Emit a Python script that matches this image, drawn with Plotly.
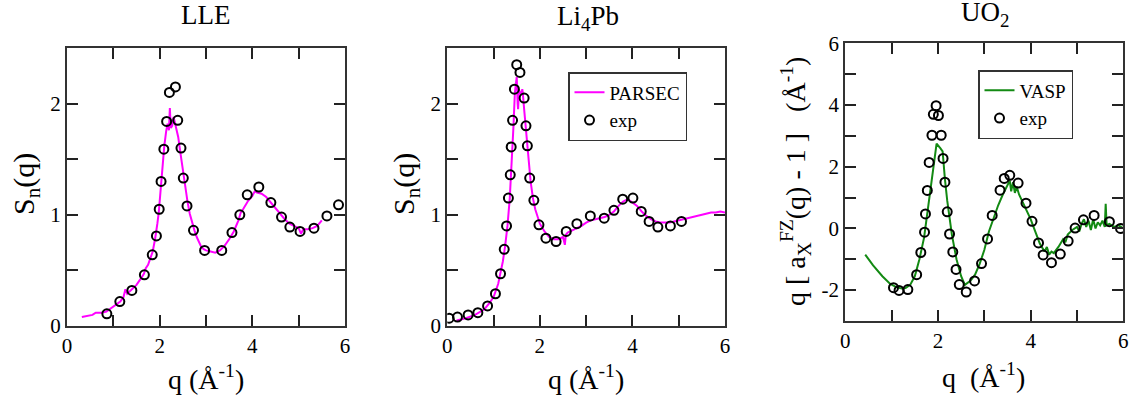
import plotly.graph_objects as go

# ---------------- data ----------------
# LLE panel
lle_q_exp = [0.86, 1.14, 1.40, 1.67, 1.84, 1.93, 1.99, 2.03, 2.09, 2.15, 2.21, 2.34, 2.39, 2.46, 2.51,
             2.59, 2.73, 2.97, 3.34, 3.56, 3.73, 3.89, 4.14, 4.40, 4.63, 4.81, 5.03, 5.33, 5.61, 5.86]
lle_s_exp = [0.11, 0.22, 0.32, 0.46, 0.64, 0.81, 1.05, 1.30, 1.59, 1.84, 2.10, 2.15, 1.85, 1.60, 1.33,
             1.08, 0.86, 0.68, 0.68, 0.84, 1.00, 1.18, 1.25, 1.11, 0.98, 0.89, 0.85, 0.88, 0.99, 1.09]
lle_q_calc = [0.32, 0.45, 0.55, 0.62, 0.75, 0.85, 0.95, 1.05, 1.15, 1.22, 1.26, 1.30, 1.40, 1.50, 1.60,
              1.66, 1.70, 1.75, 1.80, 1.85, 1.90, 1.93, 1.95, 1.98, 2.00, 2.03, 2.07, 2.10, 2.14, 2.17,
              2.20, 2.22, 2.24, 2.27, 2.30, 2.33, 2.36, 2.40, 2.45, 2.50, 2.55, 2.60, 2.65, 2.70, 2.75,
              2.80, 2.85, 2.90, 2.95, 3.00, 3.10, 3.20, 3.30, 3.40, 3.50, 3.60, 3.70, 3.75, 3.80, 3.90,
              4.00, 4.05, 4.10, 4.20, 4.30, 4.40, 4.50, 4.60, 4.70, 4.80, 4.90, 5.00, 5.05, 5.10, 5.20,
              5.30, 5.40, 5.50]
lle_s_calc = [0.08, 0.09, 0.10, 0.12, 0.12, 0.13, 0.16, 0.19, 0.22, 0.26, 0.33, 0.29, 0.33, 0.37, 0.43,
              0.47, 0.52, 0.55, 0.61, 0.67, 0.78, 0.85, 0.92, 1.02, 1.12, 1.30, 1.50, 1.62, 1.75, 1.82,
              1.76, 1.96, 1.78, 1.80, 1.88, 1.82, 1.79, 1.70, 1.55, 1.40, 1.26, 1.12, 1.01, 0.93, 0.86,
              0.80, 0.75, 0.71, 0.69, 0.68, 0.67, 0.66, 0.68, 0.72, 0.78, 0.85, 0.95, 1.02, 1.05, 1.12,
              1.17, 1.21, 1.20, 1.19, 1.16, 1.11, 1.06, 1.00, 0.96, 0.92, 0.90, 0.88, 0.83, 0.87, 0.87,
              0.88, 0.90, 0.95]

# Li4Pb panel
lip_q_exp = [0.04, 0.22, 0.45, 0.66, 0.87, 1.04, 1.15, 1.23, 1.28, 1.32, 1.36, 1.38, 1.41, 1.45, 1.50,
             1.57, 1.66, 1.70, 1.73, 1.78, 1.87, 1.98, 2.13, 2.35, 2.57, 2.80, 3.09, 3.39, 3.60, 3.79,
             4.01, 4.19, 4.36, 4.55, 4.82, 5.06]
lip_s_exp = [0.07, 0.08, 0.10, 0.12, 0.18, 0.29, 0.47, 0.69, 0.90, 1.15, 1.36, 1.61, 1.85, 2.13, 2.35,
             2.28, 2.05, 1.80, 1.62, 1.33, 1.13, 0.91, 0.79, 0.76, 0.85, 0.92, 0.99, 0.97, 1.04, 1.14,
             1.15, 1.03, 0.94, 0.89, 0.90, 0.94]
lip_q_calc = [0.20, 0.40, 0.60, 0.80, 0.90, 1.00, 1.10, 1.20, 1.25, 1.30, 1.35, 1.40, 1.43, 1.46, 1.48,
              1.50, 1.52, 1.53, 1.55, 1.58, 1.60, 1.62, 1.63, 1.66, 1.70, 1.75, 1.80, 1.85, 1.90, 2.00,
              2.10, 2.20, 2.30, 2.40, 2.50, 2.54, 2.56, 2.60, 2.70, 2.80, 2.90, 3.00, 3.10, 3.20, 3.30,
              3.40, 3.50, 3.60, 3.70, 3.80, 3.90, 4.00, 4.10, 4.20, 4.30, 4.40, 4.50, 4.60, 4.70, 4.80,
              4.90, 5.00, 5.10, 5.20, 5.30, 5.40, 5.50, 5.60, 5.70, 5.80, 5.90, 6.00]
lip_s_calc = [0.05, 0.07, 0.10, 0.15, 0.20, 0.26, 0.38, 0.58, 0.72, 0.90, 1.15, 1.50, 1.80, 2.10, 2.18,
              2.24, 2.00, 1.95, 2.12, 2.10, 2.08, 2.13, 2.10, 1.95, 1.75, 1.50, 1.30, 1.15, 1.05, 0.92,
              0.85, 0.80, 0.78, 0.78, 0.80, 0.73, 0.82, 0.84, 0.86, 0.88, 0.90, 0.93, 0.95, 0.96, 0.97,
              0.98, 1.00, 1.03, 1.08, 1.12, 1.14, 1.11, 1.08, 1.03, 0.99, 0.96, 0.94, 0.93, 0.93, 0.93,
              0.94, 0.95, 0.96, 0.97, 0.98, 0.99, 1.00, 1.01, 1.02, 1.02, 1.03, 1.02]

# UO2 panel
uo_q_exp = [1.04, 1.16, 1.35, 1.54, 1.63, 1.71, 1.73, 1.77, 1.81, 1.87, 1.90, 1.96, 2.01, 2.07, 2.11,
            2.15, 2.20, 2.25, 2.32, 2.39, 2.46, 2.61, 2.79, 2.94, 3.07, 3.17, 3.34, 3.43, 3.55, 3.73,
            3.90, 4.03, 4.17, 4.27, 4.45, 4.64, 4.81, 4.96, 5.14, 5.37, 5.70, 5.94]
uo_v_exp = [-1.92, -2.01, -1.98, -1.50, -0.78, -0.12, 0.47, 1.23, 2.14, 3.02, 3.70, 3.98, 3.66, 3.02, 2.27,
            1.50, 0.54, -0.18, -0.76, -1.33, -1.82, -2.06, -1.70, -1.14, -0.34, 0.42, 1.24, 1.62, 1.72, 1.47,
            0.82, 0.23, -0.47, -0.86, -1.11, -0.83, -0.41, 0.01, 0.28, 0.42, 0.22, 0.00]
uo_q_calc = [0.43, 0.60, 0.80, 0.97, 1.10, 1.22, 1.30, 1.40, 1.50, 1.60, 1.70, 1.80, 1.90, 1.97, 2.05,
             2.10, 2.15, 2.20, 2.30, 2.40, 2.50, 2.58, 2.70, 2.80, 2.90, 3.00, 3.10, 3.20, 3.30, 3.40,
             3.45, 3.50, 3.55, 3.58, 3.62, 3.66, 3.70, 3.75, 3.80, 3.90, 4.00, 4.05, 4.10, 4.20, 4.30,
             4.35, 4.40, 4.45, 4.50, 4.60, 4.70, 4.75, 4.80, 4.90, 5.00, 5.05, 5.10, 5.15, 5.20, 5.25,
             5.30, 5.35, 5.40, 5.45, 5.50, 5.55, 5.60, 5.62, 5.64, 5.70, 5.80, 5.90, 6.00]
uo_v_calc = [-0.85, -1.20, -1.55, -1.80, -1.90, -1.95, -1.93, -1.83, -1.55, -1.00, -0.30, 0.80, 2.00, 2.75, 2.60,
             2.50, 1.60, 0.90, -0.20, -1.00, -1.55, -1.83, -1.70, -1.50, -1.15, -0.70, -0.10, 0.35, 0.75, 1.10,
             1.25, 1.35, 1.55, 1.20, 1.50, 1.15, 1.35, 1.10, 0.95, 0.60, 0.30, 0.10, -0.10, -0.50, -0.75,
             -0.60, -0.85, -0.75, -0.80, -0.60, -0.35, -0.45, -0.20, -0.05, 0.05, -0.10, 0.15, 0.30, 0.05, 0.25,
             -0.05, 0.30, 0.00, 0.20, 0.10, 0.25, 0.05, 0.80, 0.10, 0.15, 0.05, 0.10, 0.00]

# tick positions and labels (blank label = minor tick)
q_ticks = [0, 1, 2, 3, 4, 5, 6]
q_text = ["0", "", "2", "", "4", "", "6"]
s_ticks = [0, 0.5, 1, 1.5, 2, 2.5]
s_text = ["0", "", "1", "", "2", ""]
v_ticks = [-3, -2, -1, 0, 1, 2, 3, 4, 5, 6]
v_text = ["", "-2", "", "0", "", "2", "", "4", "", "6"]

# ---------------- figure ----------------
W, H = 1136, 404
ML, MR, MT, MB = 30, 10, 30, 20
PW, PH = W - ML - MR, H - MT - MB
FONT = "Liberation Serif"
LINE_C = "#333333"
TICK_C = "#222222"
fig = go.Figure()

exp_marker = dict(symbol="circle-open", size=9, color="black", line=dict(width=2, color="black"))

fig.add_trace(go.Scatter(x=lle_q_calc, y=lle_s_calc, mode="lines", line=dict(color="#ff00ff", width=2),
                         xaxis="x", yaxis="y", showlegend=False))
fig.add_trace(go.Scatter(x=lle_q_exp, y=lle_s_exp, mode="markers", marker=exp_marker,
                         xaxis="x", yaxis="y", showlegend=False))

fig.add_trace(go.Scatter(x=lip_q_calc, y=lip_s_calc, mode="lines", line=dict(color="#ff00ff", width=2),
                         xaxis="x2", yaxis="y2", name="PARSEC"))
fig.add_trace(go.Scatter(x=lip_q_exp, y=lip_s_exp, mode="markers", marker=exp_marker,
                         xaxis="x2", yaxis="y2", name="exp"))

fig.add_trace(go.Scatter(x=uo_q_calc, y=uo_v_calc, mode="lines", line=dict(color="#138a13", width=2),
                         xaxis="x3", yaxis="y3", name="VASP", legend="legend2"))
fig.add_trace(go.Scatter(x=uo_q_exp, y=uo_v_exp, mode="markers", marker=exp_marker,
                         xaxis="x3", yaxis="y3", name="exp", legend="legend2"))


def px_x(p):
    return (p - ML) / PW


def px_y(p):
    return 1 - (p - MT) / PH


def axis(domain, rng, tickvals, ticktext, anchor):
    return dict(domain=domain, range=rng, tickmode="array", tickvals=tickvals, ticktext=ticktext,
                anchor=anchor, layer="above traces",
                showline=True, linecolor=LINE_C, linewidth=2, mirror="allticks",
                ticks="inside", ticklen=11, tickwidth=2, tickcolor=TICK_C,
                showgrid=False, zeroline=False,
                tickfont=dict(family=FONT, size=21, color="black"))


xd1 = [px_x(67), px_x(345)]
xd2 = [px_x(447.3), px_x(725)]
xd3 = [px_x(845.3), px_x(1123.3)]
yd12 = [px_y(326), px_y(48)]
yd3 = [px_y(321), px_y(43.3)]

fig.update_layout(
    width=W, height=H, margin=dict(l=ML, r=MR, t=MT, b=MB, autoexpand=False),
    paper_bgcolor="white", plot_bgcolor="white",
    xaxis=axis(xd1, [0, 6], q_ticks, q_text, "y"),
    yaxis=axis(yd12, [0, 2.5], s_ticks, s_text, "x"),
    xaxis2=axis(xd2, [0, 6], q_ticks, q_text, "y2"),
    yaxis2=axis(yd12, [0, 2.5], s_ticks, s_text, "x2"),
    xaxis3=axis(xd3, [0, 6], q_ticks, q_text, "y3"),
    yaxis3=axis(yd3, [-3, 6], v_ticks, v_text, "x3"),
    legend=dict(x=px_x(568), y=px_y(72), xanchor="left", yanchor="top",
                bordercolor=LINE_C, borderwidth=1.5, bgcolor="white",
                font=dict(family=FONT, size=19, color="black")),
    legend2=dict(x=px_x(978), y=px_y(70), xanchor="left", yanchor="top",
                 bordercolor=LINE_C, borderwidth=1.5, bgcolor="white",
                 font=dict(family=FONT, size=19, color="black")),
)

ann = []
TF = dict(family=FONT, size=27, color="black")
AF = dict(family=FONT, size=28, color="black")
# panel titles
ann.append(dict(text="LLE", x=px_x(205), y=px_y(15), font=TF))
ann.append(dict(text="Li<sub>4</sub>Pb", x=px_x(588), y=px_y(18), font=TF))
ann.append(dict(text="UO<sub>2</sub>", x=px_x(985), y=px_y(14), font=TF))
# x-axis titles
ann.append(dict(text="q (Å<sup>-1</sup>)", x=px_x(206), y=px_y(377), font=AF))
ann.append(dict(text="q (Å<sup>-1</sup>)", x=px_x(586), y=px_y(377), font=AF))
ann.append(dict(text="q  (Å<sup>-1</sup>)", x=px_x(983), y=px_y(375), font=AF))
# y-axis titles
ann.append(dict(text="S<sub>n</sub>(q)", x=px_x(26), y=px_y(184), textangle=-90,
                font=dict(family=FONT, size=30, color="black")))
ann.append(dict(text="S<sub>n</sub>(q)", x=px_x(406), y=px_y(184), textangle=-90,
                font=dict(family=FONT, size=30, color="black")))
ann.append(dict(text="q [ a<sub>X</sub><sup>FZ</sup>(q) - 1 ]   (Å<sup>-1</sup>)", x=px_x(795), y=px_y(182),
                textangle=-90, font=dict(family=FONT, size=28, color="black")))
for a in ann:
    a.update(xref="paper", yref="paper", showarrow=False, xanchor="center", yanchor="middle")
fig.update_layout(annotations=ann)

fig.write_html("out.html")
